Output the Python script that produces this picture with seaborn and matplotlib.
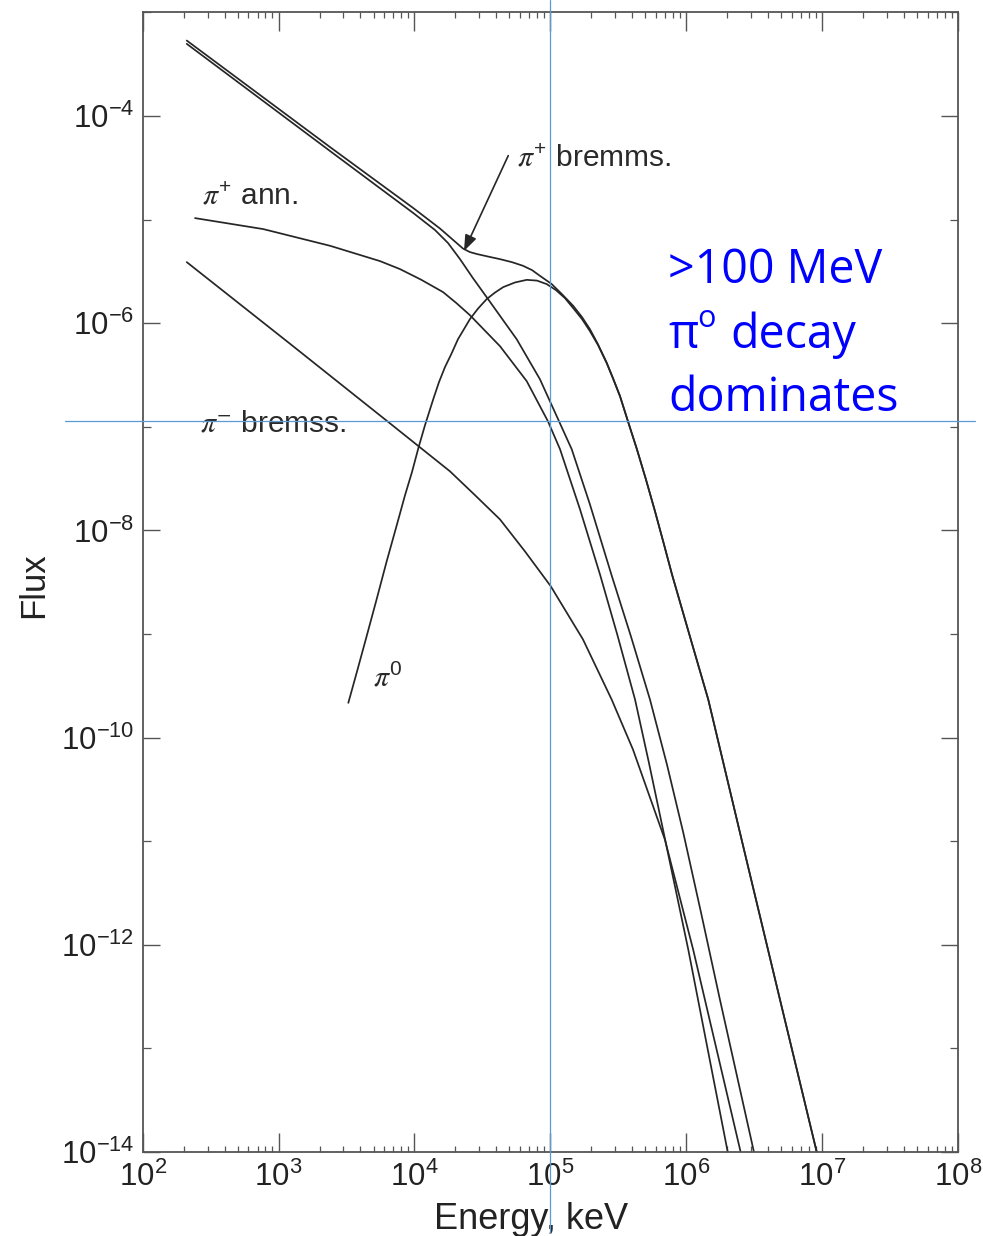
import numpy as np
import pandas as pd
import matplotlib
matplotlib.use("Agg")
import matplotlib.pyplot as plt
from matplotlib.ticker import FixedLocator, LogLocator, NullFormatter, LogFormatterSciNotation
import seaborn as sns

# Component spectra: log10(photon energy / keV) and log10(flux)
total_log_e = [2.324, 3.378, 3.991, 4.188, 4.357, 4.408, 4.460, 4.541, 4.629,
               4.717, 4.798, 4.865, 4.923, 5.010, 5.085, 5.168, 5.233, 5.291, 5.350,
               5.414, 5.461, 5.512, 5.571, 5.637, 5.703, 5.770, 5.836, 5.895, 6.027,
               6.162, 6.425, 6.690, 6.960]
total_log_f = [-3.272, -4.300, -4.889, -5.087, -5.280, -5.314, -5.333, -5.357, -5.382,
               -5.411, -5.446, -5.488, -5.543, -5.623, -5.720, -5.833, -5.942, -6.058, -6.203,
               -6.380, -6.531, -6.702, -6.947, -7.217, -7.507, -7.816, -8.135, -8.425, -9.024,
               -9.633, -11.082, -12.531, -14.0]

pi0_log_e = [3.513, 3.581, 3.648, 3.722, 3.795, 3.864, 3.930, 3.982, 4.028, 4.077,
             4.138, 4.180, 4.224, 4.272, 4.320, 4.364, 4.408, 4.467, 4.531, 4.592,
             4.653, 4.740, 4.826, 4.901, 4.973, 5.041, 5.107, 5.168, 5.233, 5.291,
             5.350, 5.414, 5.461, 5.512, 5.571, 5.637, 5.703, 5.770, 5.836, 5.895,
             6.027, 6.162, 6.425, 6.690, 6.960]
pi0_log_f = [-9.665, -9.343, -9.021, -8.662, -8.300, -7.976, -7.662, -7.435, -7.208, -6.986,
             -6.734, -6.570, -6.425, -6.295, -6.155, -6.058, -5.961, -5.860, -5.768, -5.705,
             -5.652, -5.607, -5.582, -5.589, -5.623, -5.681, -5.758, -5.855, -5.961, -6.077,
             -6.210, -6.385, -6.535, -6.705, -6.949, -7.219, -7.508, -7.817, -8.136, -8.426,
             -9.025, -9.634, -11.083, -12.532, -14.0]

pip_brem_log_e = [2.324, 3.378, 3.991, 4.151, 4.247, 4.335, 4.430, 4.531, 4.752, 4.923,
                  5.046, 5.157, 5.291, 5.453, 5.593, 5.733, 5.858, 5.978, 6.112, 6.248,
                  6.498]
pip_brem_log_f = [-3.304, -4.338, -4.937, -5.101, -5.227, -5.382, -5.565, -5.749, -6.155, -6.541,
                  -6.896, -7.217, -7.749, -8.444, -9.024, -9.633, -10.261, -10.918, -11.710, -12.531,
                  -14.0]

pip_ann_log_e = [2.385, 2.887, 3.378, 3.746, 3.893, 4.048, 4.210, 4.309, 4.408, 4.629,
                 4.826, 4.982, 5.071, 5.218, 5.365, 5.494, 5.623, 5.725, 5.829, 6.015,
                 6.305]
pip_ann_log_f = [-4.986, -5.092, -5.253, -5.401, -5.478, -5.580, -5.700, -5.807, -5.923, -6.222,
                 -6.560, -6.947, -7.217, -7.797, -8.425, -9.014, -9.633, -10.242, -10.889, -12.048,
                 -14.0]

pim_brem_log_e = [2.324, 3.084, 3.807, 4.261, 4.445, 4.629, 4.813, 5.002, 5.240, 5.451,
                  5.608, 5.843, 6.051, 6.400]
pim_brem_log_f = [-5.411, -6.199, -6.954, -7.430, -7.660, -7.894, -8.203, -8.538, -9.053, -9.633,
                  -10.116, -10.986, -12.048, -14.0]

x_decades = [1e2, 1e3, 1e4, 1e5, 1e6, 1e7, 1e8]
y_labelled = [1e-14, 1e-12, 1e-10, 1e-8, 1e-6, 1e-4]
y_unlabelled = [1e-13, 1e-11, 1e-9, 1e-7, 1e-5, 1e-3]

threshold_energy_kev = 1e5      # 100 MeV
threshold_flux = 1.13e-7

series = [
    ("total", total_log_e, total_log_f),
    ("pi0", pi0_log_e, pi0_log_f),
    ("pi+ bremms", pip_brem_log_e, pip_brem_log_f),
    ("pi+ ann", pip_ann_log_e, pip_ann_log_f),
    ("pi- bremss", pim_brem_log_e, pim_brem_log_f),
]
df = pd.concat(
    [pd.DataFrame({"component": name,
                   "energy": 10.0 ** np.asarray(le),
                   "flux": 10.0 ** np.asarray(lf)}) for name, le, lf in series],
    ignore_index=True,
)

sns.set_theme(style="ticks")
plt.rcParams["font.family"] = ["Liberation Sans", "DejaVu Sans"]
plt.rcParams["axes.unicode_minus"] = False

ink = "#262626"
frame = "#555555"
guide = "#5b9bd5"
blue = "#0000ff"

fig = plt.figure(figsize=(9.83, 12.36), dpi=100)
ax = fig.add_axes([0.1452, 0.0680, 0.8294, 0.9220])
ax.set_xscale("log")
ax.set_yscale("log")

sns.lineplot(data=df, x="energy", y="flux", hue="component", estimator=None, sort=False,
             palette=[ink] * len(series), linewidth=1.25, legend=False, ax=ax)
for ln in ax.get_lines():
    ln.set_solid_joinstyle("round")

ax.set_xlim(1e2, 1e8)
ax.set_ylim(1e-14, 1e-3)

ax.xaxis.set_major_locator(FixedLocator(x_decades))
ax.xaxis.set_major_formatter(LogFormatterSciNotation())
ax.xaxis.set_minor_locator(LogLocator(base=10, subs=np.arange(2, 10), numticks=100))
ax.xaxis.set_minor_formatter(NullFormatter())
ax.yaxis.set_major_locator(FixedLocator(y_labelled))
ax.yaxis.set_major_formatter(LogFormatterSciNotation())
ax.yaxis.set_minor_locator(FixedLocator(y_unlabelled))
ax.yaxis.set_minor_formatter(NullFormatter())

ax.tick_params(axis="both", which="both", direction="in", top=True, right=True,
               color=frame, labelcolor="#222222")
ax.tick_params(axis="x", which="major", length=13.5, width=1.0, pad=7, labelsize=22.5)
ax.tick_params(axis="x", which="minor", length=4.5, width=0.9)
ax.tick_params(axis="y", which="major", length=12, width=1.0, pad=6, labelsize=22.5)
ax.tick_params(axis="y", which="minor", length=6, width=0.9)
for sp in ax.spines.values():
    sp.set_color(frame)
    sp.set_linewidth(1.3)

ax.set_xlabel("Energy, keV", fontsize=26, color="#222222")
ax.xaxis.set_label_coords(0.476, -0.044)
ax.set_ylabel("Flux", fontsize=25, color="#222222")
ax.yaxis.set_label_coords(-0.113, 0.497)

# curve labels
lab_kw = dict(transform=ax.transAxes, fontsize=21.5, color="#2a2a2a",
              va="baseline", ha="left", math_fontfamily="stix")
ax.text(0.0724, 0.8324, r"$\pi^{\mathdefault{+}}$ ann.", **lab_kw)
ax.text(0.4587, 0.8660, r"$\pi^{\mathdefault{+}}$ bremms.", **lab_kw)
ax.text(0.0703, 0.6320, r"$\pi^{-}$ bremss.", **lab_kw)
ax.text(0.2828, 0.4083, r"$\pi^{\mathdefault{0}}$", **lab_kw)

ax.annotate("", xy=(10 ** 4.364, 10 ** -5.304), xytext=(10 ** 4.690, 10 ** -4.383),
            arrowprops=dict(arrowstyle="-|>,head_length=0.8,head_width=0.3",
                            color=ink, lw=1.2, shrinkA=0, shrinkB=0))

# 100 MeV guide lines
ax.axvline(threshold_energy_kev, ymin=-0.070, ymax=1.011, color=guide, lw=0.9,
           clip_on=False, zorder=6)
ax.axhline(threshold_flux, xmin=-0.0953, xmax=1.0209, color=guide, lw=0.9,
           clip_on=False, zorder=6)

W, H = 983.0, 1236.0
big = dict(fontsize=33.5, family=["Open Sans", "DejaVu Sans"], color=blue, va="baseline", ha="left")
fig.text(668 / W, 1 - 283.3 / H, ">100 MeV", **big)
fig.text(668 / W, 1 - 348.3 / H, "π", **big)
fig.text(697 / W, 1 - 327 / H, "o", fontsize=22, family=["Open Sans", "DejaVu Sans"],
         color=blue, va="baseline", ha="left")
fig.text(730 / W, 1 - 348.3 / H, "decay", **big)
fig.text(668 / W, 1 - 411 / H, "dominates", **big)

fig.savefig("out.png", dpi=100, facecolor="white")
